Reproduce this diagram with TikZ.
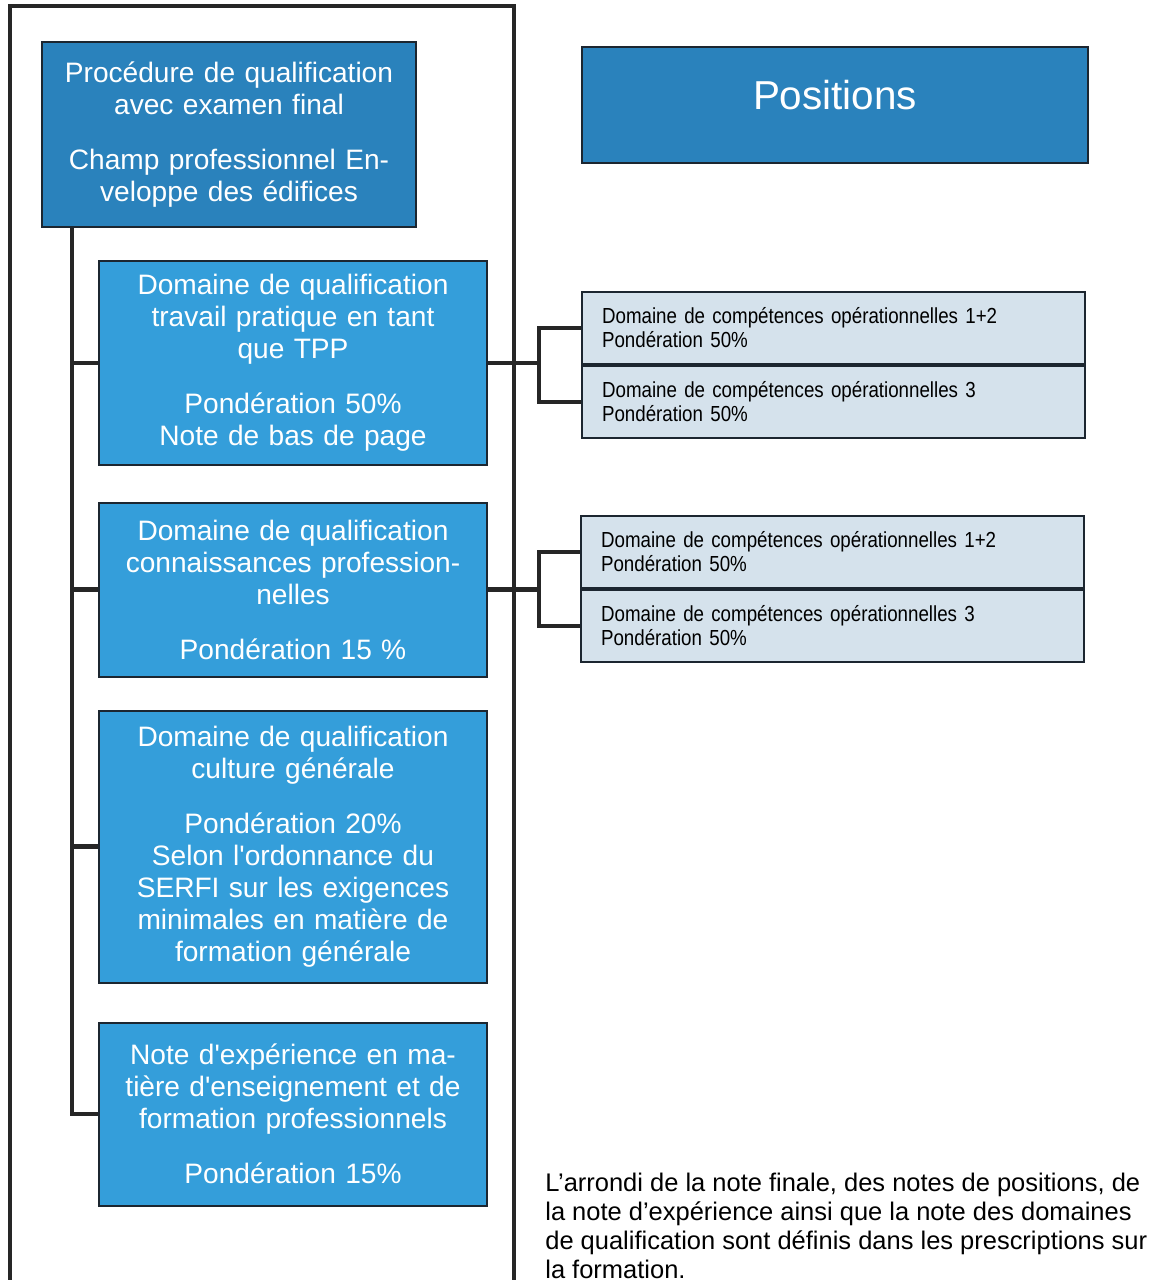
\documentclass[tikz,border=0pt]{standalone}
\usepackage{fontspec}
\setmainfont{Liberation Sans}
\newfontfamily\narrowfont[FakeStretch=0.86]{Liberation Sans}
\usetikzlibrary{positioning}

\definecolor{darkblue}{RGB}{42,130,188}
\definecolor{midblue}{RGB}{52,158,218}
\definecolor{paleblue}{RGB}{213,226,236}
\definecolor{edgegrey}{RGB}{28,38,48}

\begin{document}
\begin{tikzpicture}[x=0.02cm, y=-0.02cm,
  headbox/.style={draw=edgegrey, line width=1.1pt, fill=darkblue, text=white, align=center, inner sep=0pt, font=\fontsize{16}{18.2}\selectfont},
  qualbox/.style={draw=edgegrey, line width=1.1pt, fill=midblue, text=white, align=center, inner sep=0pt, text width=7.76cm, font=\fontsize{16}{18.2}\selectfont},
  posbox/.style={draw=edgegrey, line width=1.1pt, fill=paleblue, text=black, align=left, inner xsep=0.4cm, inner ysep=0pt, text width=9.26cm, minimum height=1.44cm, font=\narrowfont\fontsize{12.4}{13.6}\selectfont},
  link/.style={line width=2.7pt, draw=black!85},
  node distance=0.76cm]
\useasboundingbox (0,0) rectangle (1162,1280);

% cadre
\draw[line width=1.8pt, black!85] (10,1290) -- (10,6) -- (514,6) -- (514,1290);

\node (top)[headbox, text width=7.48cm, minimum height=3.7cm] at (229,134.5) {Procédure de qualification\\avec examen final\\[0.46cm]Champ professionnel En-\\veloppe des édifices};
\node (pos)[headbox, minimum width=10.12cm, minimum height=2.32cm, text depth=0.4cm, font=\fontsize{23}{26}\selectfont] at (835,105) {Positions};

\node (d1)[qualbox, minimum height=4.08cm] [below=0.64cm of top, xshift=1.28cm] {Domaine de qualification\\travail pratique en tant\\que TPP\\[0.46cm]Pondération 50\%\\Note de bas de page};
\node (d2)[qualbox, minimum height=3.48cm] [below=0.72cm of d1] {Domaine de qualification\\connaissances profession-\\nelles\\[0.46cm]Pondération 15 \%};
\node (d3)[qualbox, minimum height=5.44cm] [below=0.64cm of d2] {Domaine de qualification\\culture générale\\[0.46cm]Pondération 20\%\\Selon l\textquotesingle ordonnance du\\SERFI sur les exigences\\minimales en matière de\\formation générale};
\node (d4)[qualbox, minimum height=3.66cm] [below=0.76cm of d3] {Note d\textquotesingle expérience en ma-\\tière d\textquotesingle enseignement et de\\formation professionnels\\[0.46cm]Pondération 15\%};

\node (p11)[posbox] at (833.5,328) {Domaine de compétences opérationnelles 1+2\\Pondération 50\%};
\node (p12)[posbox] [below=0cm of p11] {Domaine de compétences opérationnelles 3\\Pondération 50\%};
\node (p21)[posbox] at (832.5,552) {Domaine de compétences opérationnelles 1+2\\Pondération 50\%};
\node (p22)[posbox] [below=0cm of p21] {Domaine de compétences opérationnelles 3\\Pondération 50\%};

\node (note)[anchor=north west, align=left, inner sep=0pt, font=\fontsize{14.5}{16.5}\selectfont] at (545,1172.5) {L’arrondi de la note finale, des notes de positions, de\\la note d’expérience ainsi que la note des domaines\\de qualification sont définis dans les prescriptions sur\\la formation.};

% liaisons
\coordinate (trunk) at ([xshift=0.62cm]top.south west);
\coordinate (j1) at ([xshift=1.02cm]d1.east);
\coordinate (j2) at ([xshift=1.02cm]d2.east);
\draw[link] (trunk) |- (d4.west);
\draw[link] (trunk |- d1.west) -- (d1.west);
\draw[link] (trunk |- d2.west) -- (d2.west);
\draw[link] (trunk |- d3.west) -- (d3.west);
\draw[link] (d1.east) -- (j1);
\draw[link] (p11.west) -| (j1) |- (p12.west);
\draw[link] (d2.east) -- (j2);
\draw[link] (p21.west) -| (j2) |- (p22.west);
\end{tikzpicture}
\end{document}
